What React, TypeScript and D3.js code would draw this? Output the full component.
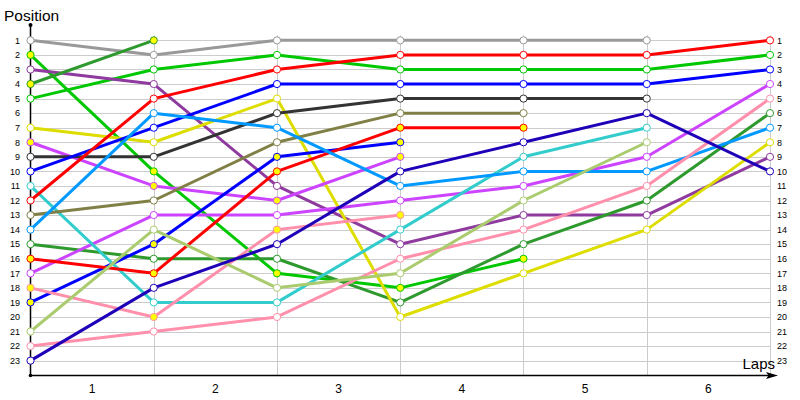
import React from "react";
import * as d3 from "d3";

const LAPS = [0, 1, 2, 3, 4, 5, 6];
const LAP_LABELS = ["1", "2", "3", "4", "5", "6"];
const POSITIONS = d3.range(1, 24);

type Row = { name: string; color: string; pit: boolean; pos: (number | null)[] };

const seriesNames = [
  "gray", "greenA", "greenB", "purple", "dkgreenA", "dkgreenB", "yellow",
  "violetA", "violetB", "dkgray", "blueA", "blueB", "cyan", "redA", "redB",
  "olive", "ltblue", "pinkA", "pinkB", "ltgreen", "navy",
];
const seriesColors = [
  "#999999", "#00c800", "#00c800", "#8e3a9e", "#2e9a2e", "#2e9a2e", "#dddd00",
  "#cc44ff", "#cc44ff", "#333333", "#0000ff", "#0000ff", "#33cccc", "#ff0000", "#ff0000",
  "#808046", "#0099ff", "#ff8fab", "#ff8fab", "#aacc6e", "#1f00b8",
];
const seriesPit = [
  false, true, false, false, true, false, false,
  true, false, false, false, true, false, false, true,
  false, false, true, false, false, false,
];
const seriesPositions: (number | null)[][] = [
  [1, 2, 1, 1, 1, 1, null],
  [2, 10, 17, 18, 16, null, null],
  [5, 3, 2, 3, 3, 3, 2],
  [3, 4, 11, 15, 13, 13, 9],
  [4, 1, null, null, null, null, null],
  [15, 16, 16, 19, 15, 12, 6],
  [7, 8, 5, 20, 17, 14, 8],
  [8, 11, 12, 9, null, null, null],
  [17, 13, 13, 12, 11, 9, 4],
  [9, 9, 6, 5, 5, 5, null],
  [10, 7, 4, 4, 4, 4, 3],
  [19, 15, 9, 8, null, null, null],
  [11, 19, 19, 14, 9, 7, null],
  [12, 5, 3, 2, 2, 2, 1],
  [16, 17, 10, 7, 7, null, null],
  [13, 12, 8, 6, 6, null, null],
  [14, 6, 7, 11, 10, 10, 7],
  [18, 20, 14, 13, null, null, null],
  [22, 21, 20, 16, 14, 11, 5],
  [21, 14, 18, 17, 12, 8, null],
  [23, 18, 15, 10, 8, 6, 10],
];

const rows: Row[] = seriesNames.map((name, i) => ({
  name,
  color: seriesColors[i],
  pit: seriesPit[i],
  pos: seriesPositions[i],
}));

const W = 800;
const H = 400;
const FONT = "'Liberation Sans', Arial, sans-serif";

export default function App() {
  const x = d3.scaleLinear().domain([0, 6]).range([30.5, 770]);
  const y = d3.scaleLinear().domain([0, 24]).range([25.8, 375.2]);
  const line = d3
    .line<number | null>()
    .defined((d) => d != null)
    .x((_, i) => x(LAPS[i]))
    .y((d) => y(d as number));

  return (
    <svg width={W} height={H} style={{ position: "absolute", left: 0, top: 0, background: "#fff" }}>
      {/* horizontal grid */}
      {POSITIONS.map((p) => (
        <line key={"h" + p} x1={x(0)} x2={x(6)} y1={Math.round(y(p)) + 0.5} y2={Math.round(y(p)) + 0.5} stroke="#cccccc" strokeWidth={1} />
      ))}
      {/* vertical grid */}
      {LAPS.slice(1).map((l) => (
        <line key={"v" + l} x1={Math.round(x(l)) + 0.5} x2={Math.round(x(l)) + 0.5} y1={y(0.65)} y2={y(24)} stroke="#cccccc" strokeWidth={1} />
      ))}
      {/* axes */}
      <line x1={30.5} x2={30.5} y1={25} y2={375.5} stroke="#000" strokeWidth={1.5} />
      <circle cx={30.5} cy={25} r={2} fill="#000" />
      <circle cx={30.5} cy={375.5} r={1.8} fill="#000" />
      <line x1={30.5} x2={772} y1={375.5} y2={375.5} stroke="#000" strokeWidth={1.5} />
      <path d="M766,372 L778,375.5 L766,379 L768.5,375.5 Z" fill="#000" />

      {/* left labels */}
      {POSITIONS.map((p) => (
        <text key={"l" + p} x={20} y={y(p) + 3.3} textAnchor="end" fontSize={9} fontFamily={FONT} fill="#000">
          {p}
        </text>
      ))}
      {/* right labels */}
      {POSITIONS.map((p) => (
        <text key={"r" + p} x={777} y={y(p) + 3.3} textAnchor="start" fontSize={9} fontFamily={FONT} fill="#000">
          {p}
        </text>
      ))}
      {/* lap labels */}
      {LAP_LABELS.map((t, i) => (
        <text key={"x" + t} x={(x(i) + x(i + 1)) / 2} y={393} textAnchor="middle" fontSize={12} fontFamily={FONT} fill="#000">
          {t}
        </text>
      ))}
      <text x={4} y={21} fontSize={15.5} fontFamily={FONT} fill="#000">Position</text>
      <text x={775} y={369} textAnchor="end" fontSize={15} fontFamily={FONT} fill="#000">Laps</text>

      {/* lines */}
      {rows.map((r) => (
        <path key={"p" + r.name} d={line(r.pos) || ""} fill="none" stroke={r.color} strokeWidth={3} strokeLinejoin="round" />
      ))}
      {/* markers */}
      {rows.map((r) =>
        r.pos.map((p, i) =>
          p == null ? null : (
            <circle
              key={r.name + "m" + i}
              cx={x(LAPS[i])}
              cy={y(p)}
              r={3.6}
              fill={r.pit ? "#ffff00" : "#ffffff"}
              stroke={r.color}
              strokeWidth={1}
            />
          )
        )
      )}
    </svg>
  );
}
